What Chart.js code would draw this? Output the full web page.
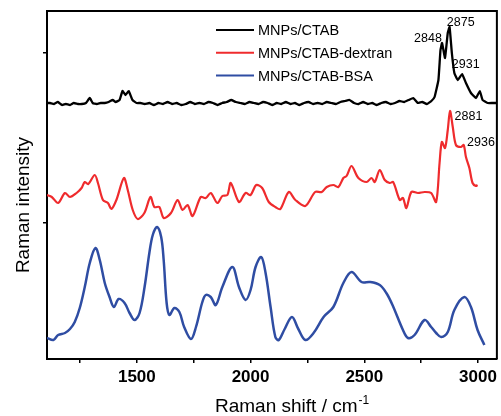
<!DOCTYPE html>
<html>
<head>
<meta charset="utf-8">
<script src="https://cdn.jsdelivr.net/npm/chart.js@4/dist/chart.umd.min.js"></script>
<style>
  html, body { margin: 0; padding: 0; background: #fff; }
  #wrap { width: 501px; height: 416px; }
</style>
</head>
<body>
<div id="wrap"><canvas id="myChart"></canvas></div>
<script>
// Raman spectra (x = Raman shift in cm-1, y = intensity in arbitrary units)

const ctabShift = [1105, 1118, 1136, 1153, 1171, 1188, 1206, 1223, 1241, 1258, 1276, 1293, 1306, 1324, 1341, 1359,
  1376, 1394, 1407, 1424, 1437, 1450, 1464, 1481, 1499,
  1515, 1535, 1555, 1575, 1595, 1615, 1635, 1655, 1675, 1695, 1715, 1735, 1755, 1775, 1795, 1815, 1835, 1855,
  1875, 1895, 1915, 1935, 1955, 1975, 1995, 2015, 2035, 2055, 2075, 2095, 2115, 2135, 2155, 2175, 2195, 2215,
  2235, 2255, 2275, 2295, 2315, 2335, 2355, 2375, 2395, 2415, 2435, 2455, 2475, 2495, 2515, 2535, 2555, 2575,
  2595, 2615, 2635, 2655, 2675, 2695, 2715, 2735, 2755, 2775, 2795,
  2809, 2826, 2835, 2842, 2855, 2867, 2875, 2885, 2896, 2911, 2930, 2947, 2969, 2991, 3008, 3020, 3042, 3064, 3081];
const ctabIntensity = [256, 256, 255, 257, 254, 255, 254, 256, 255, 255, 256, 261, 256, 255, 256, 256,
  257, 259, 257, 259, 268, 264, 268, 259, 256,
  256, 255, 256, 254, 256, 255, 257, 255, 256, 254, 255, 257, 255, 256, 255, 257, 256, 254,
  256, 257, 259, 257, 256, 255, 257, 256, 255, 257, 256, 254, 256, 255, 257, 255, 256, 254,
  256, 257, 255, 256, 255, 257, 256, 255, 257, 258, 259, 256, 255, 257, 255, 256, 254, 256,
  257, 255, 256, 258, 257, 259, 261, 256, 257, 255, 258,
  262, 279, 309, 316, 301, 326, 332, 306, 286, 279, 285, 276, 266, 261, 268, 259, 256, 256, 256];

const dextranShift = [1104, 1126, 1154, 1184, 1206, 1235, 1257, 1271, 1286, 1315, 1329, 1351, 1373, 1388, 1410,
  1443, 1460, 1482, 1504, 1533, 1560, 1577, 1599, 1618, 1650, 1679, 1701, 1723, 1745, 1781, 1803, 1825, 1854,
  1876, 1898, 1913, 1949, 1978, 2000, 2025, 2051, 2080, 2109, 2131, 2168, 2197, 2241, 2284, 2313, 2335, 2364,
  2386, 2408, 2422, 2444, 2474, 2510, 2532, 2546, 2568, 2590, 2612, 2627, 2656, 2670, 2685, 2707, 2736, 2765,
  2794, 2816, 2831, 2841, 2855, 2867, 2877, 2889, 2903, 2925, 2937, 2947, 2962, 2976, 2991, 2998];
const dextranIntensity = [164, 162, 156, 166, 162, 166, 171, 177, 175, 184, 176, 159, 156, 150, 159,
  181, 169, 149, 140, 146, 162, 152, 152, 141, 146, 159, 149, 154, 143, 162, 161, 166, 156,
  163, 164, 176, 157, 166, 164, 174, 171, 157, 152, 150, 167, 159, 153, 167, 167, 172, 174,
  172, 181, 183, 193, 181, 177, 181, 177, 189, 179, 176, 177, 159, 161, 151, 167, 166, 167,
  166, 157, 196, 217, 211, 229, 248, 232, 214, 212, 214, 202, 191, 176, 173, 174];

const bsaShift = [1105, 1133, 1154, 1184, 1206, 1227, 1249, 1271, 1293, 1318, 1337, 1359, 1380, 1399, 1420,
  1446, 1468, 1490, 1512, 1534, 1555, 1570, 1589, 1607, 1618, 1631, 1643, 1665, 1687, 1708, 1738, 1760, 1788,
  1803, 1825, 1847, 1876, 1920, 1949, 1978, 2000, 2022, 2047, 2066, 2088, 2109, 2124, 2150, 2182, 2210, 2241,
  2277, 2321, 2364, 2408, 2444, 2488, 2525, 2568, 2597, 2624, 2670, 2692, 2721, 2765, 2794, 2816, 2838, 2867,
  2896, 2940, 2969, 2998, 3028];
const bsaIntensity = [21, 19, 24, 26, 30, 37, 51, 72, 96, 111, 99, 76, 62, 52, 60,
  56, 46, 39, 46, 72, 106, 124, 132, 122, 99, 56, 44, 51, 47, 32, 20, 32, 57,
  64, 62, 54, 72, 92, 72, 59, 69, 92, 102, 86, 52, 22, 19, 30, 42, 30, 19,
  26, 42, 52, 76, 87, 77, 77, 74, 66, 54, 29, 21, 24, 39, 32, 26, 22, 27,
  49, 62, 52, 29, 14];

const seriesNames = ['MNPs/CTAB', 'MNPs/CTAB-dextran', 'MNPs/CTAB-BSA'];
const seriesColors = ['#000000', '#ef2b2d', '#2f4da3'];

// peak labels: text, anchor shift, anchor intensity
const peakText = ['2848', '2875', '2931', '2881', '2936'];
const peakShift = [2780, 2924, 2946, 2958, 3013];
const peakIntensity = [320, 336, 294, 242, 216];

const xTickValues = [1250, 1500, 1750, 2000, 2250, 2500, 2750, 3000];
const xTickLabels = ['1500', '2000', '2500', '3000'];
const yTickValues = [136, 306];

function toPoints(xs, ys) {
  return xs.map((x, i) => ({ x: x, y: ys[i] }));
}

const FONT = 'Liberation Sans, Arial, sans-serif';

const framePlugin = {
  id: 'frame',
  afterDraw(chart) {
    const { ctx, chartArea: a } = chart;
    ctx.save();
    ctx.strokeStyle = '#000';
    ctx.lineWidth = 2;
    ctx.beginPath();
    ctx.moveTo(a.left, a.top);
    ctx.lineTo(a.right, a.top);
    ctx.lineTo(a.right, a.bottom);
    ctx.stroke();

    // legend, top right inside the plot
    const lx = 216, ly = 30, gap = 22.8;
    ctx.font = '14.5px ' + FONT;
    ctx.textBaseline = 'middle';
    ctx.textAlign = 'left';
    chart.data.datasets.forEach((ds, i) => {
      const y = ly + i * gap;
      ctx.strokeStyle = ds.borderColor;
      ctx.lineWidth = 2;
      ctx.beginPath();
      ctx.moveTo(lx, y);
      ctx.lineTo(lx + 38, y);
      ctx.stroke();
      ctx.fillStyle = '#000';
      ctx.fillText(ds.label, lx + 42, y + 1);
    });

    // peak labels
    const xs = chart.scales.x, ys = chart.scales.y;
    ctx.font = '12.5px ' + FONT;
    ctx.textAlign = 'center';
    peakText.forEach((t, i) => {
      ctx.fillText(t, xs.getPixelForValue(peakShift[i]), ys.getPixelForValue(peakIntensity[i]));
    });

    // axis titles
    ctx.font = '19px ' + FONT;
    ctx.textAlign = 'left';
    ctx.textBaseline = 'alphabetic';
    const main = 'Raman shift / cm';
    ctx.fillText(main, 215, 412);
    const w = ctx.measureText(main).width;
    ctx.font = '12px ' + FONT;
    ctx.fillText('-1', 215 + w + 1, 404);

    ctx.save();
    ctx.translate(29, 205);
    ctx.rotate(-Math.PI / 2);
    ctx.font = '19px ' + FONT;
    ctx.textAlign = 'center';
    ctx.fillText('Raman intensity', 0, 0);
    ctx.restore();
    ctx.restore();
  }
};

const ctx = document.getElementById('myChart');
new Chart(ctx, {
  type: 'line',
  data: {
    datasets: [
      { label: seriesNames[0], data: toPoints(ctabShift, ctabIntensity), borderColor: seriesColors[0], borderWidth: 2.3, tension: 0.1 },
      { label: seriesNames[1], data: toPoints(dextranShift, dextranIntensity), borderColor: seriesColors[1], borderWidth: 2.2, tension: 0.3 },
      { label: seriesNames[2], data: toPoints(bsaShift, bsaIntensity), borderColor: seriesColors[2], borderWidth: 2.5, tension: 0.35 }
    ]
  },
  plugins: [framePlugin],
  options: {
    responsive: true,
    maintainAspectRatio: false,
    animation: false,
    layout: { padding: { top: 11, right: 2, left: 0, bottom: 0 } },
    elements: { point: { radius: 0 } },
    plugins: { legend: { display: false }, tooltip: { enabled: false } },
    scales: {
      x: {
        type: 'linear',
        min: 1105,
        max: 3083,
        border: { color: '#000', width: 2 },
        grid: { drawOnChartArea: false, color: '#000', lineWidth: 1.5, tickLength: 4 },
        ticks: {
          autoSkip: false,
          maxRotation: 0,
          color: '#000',
          padding: 4,
          font: { family: FONT, size: 17, weight: 'bold' },
          callback: function (v) {
            const s = String(Math.round(v));
            return xTickLabels.includes(s) ? s : '';
          }
        },
        afterBuildTicks(scale) { scale.ticks = xTickValues.map(v => ({ value: v })); },
        afterFit(scale) { scale.height = 57; }
      },
      y: {
        min: 0,
        max: 348,
        border: { color: '#000', width: 2 },
        grid: { drawOnChartArea: false, color: '#000', lineWidth: 1.5, tickLength: 4 },
        ticks: { display: true, callback: () => '' },
        afterBuildTicks(scale) { scale.ticks = yTickValues.map(v => ({ value: v })); },
        afterFit(scale) { scale.width = 47; }
      }
    }
  }
});
</script>
</body>
</html>
